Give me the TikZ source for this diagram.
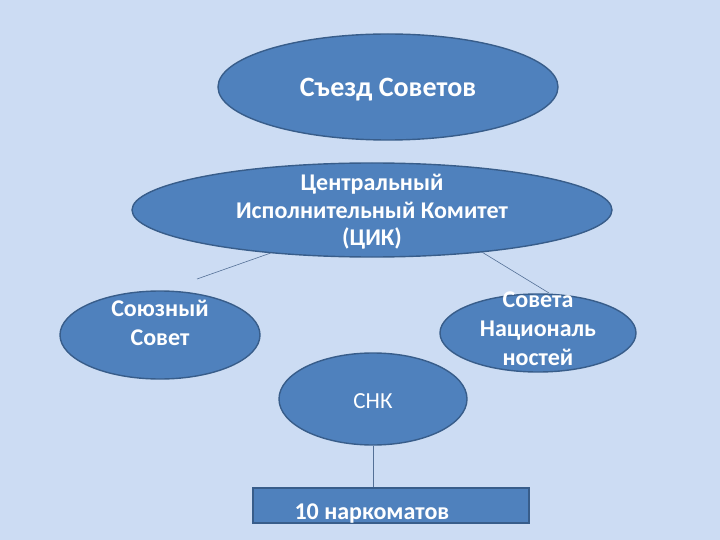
\documentclass[tikz,border=0pt]{standalone}
\usepackage{fontspec}
\setmainfont{Carlito}
\usetikzlibrary{shapes.geometric,positioning}
\definecolor{slidebg}{RGB}{204,220,243}
\definecolor{ovalfill}{RGB}{79,129,189}
\definecolor{ovaldraw}{RGB}{56,93,138}
\definecolor{linkcol}{RGB}{84,112,150}

\begin{document}
\begin{tikzpicture}[x=1pt,y=-1pt,font=\bfseries\fontsize{24}{29}\selectfont,
  oval/.style={ellipse,draw=ovaldraw,line width=1.4pt,fill=ovalfill,inner sep=0pt},
  words/.style={text=white,align=center,inner sep=0pt},
  link/.style={draw=linkcol,line width=0.6pt}]
\fill[slidebg] (0,0) rectangle (720,540);
\useasboundingbox (0,0) rectangle (720,540);

% ovals
\node[oval,minimum width=340pt,minimum height=106pt] (sezd) at (388,87) {};
\node[oval,minimum width=480pt,minimum height=94pt] (cik) at (372,210) {};
\node[oval,minimum width=200pt,minimum height=88pt] (soyuz) at (160,335) {};
\node[oval,minimum width=196pt,minimum height=78pt] (nats) at (538,333) {};
\node[oval,minimum width=188pt,minimum height=92pt] (snk) at (373,399) {};
\node[draw=ovaldraw,line width=1.4pt,fill=ovalfill,minimum width=276pt,minimum height=35pt,inner sep=0pt] (nark) at (391,505.5) {};

% texts
\node[words,font=\bfseries\fontsize{28}{34}\selectfont] (sezdtxt) at (388,90) {Съезд Советов};
\node[words,font=\bfseries\fontsize{24}{27.5}\selectfont] (ciktxt) at (372,212) {Центральный\\Исполнительный Комитет\\(ЦИК)};
\node[words] (soyuztxt) at (160,323) {Союзный\\Совет};
\node[words] (natstxt) at (538,329) {Совета\\Националь\\ностей};
\node[words,font=\fontsize{23}{27}\selectfont] (snktxt) at (373,401) {СНК};
\node[words,right=42pt of nark.west,yshift=-8pt] (narktxt) {10 наркоматов};

% links
\coordinate (soyuzend) at (197,279);
\coordinate (natsend) at (549,293);
\draw[link] (cik.203) -- (soyuzend);
\draw[link] (cik.339) -- (natsend);
\draw[link] (snk.south) -- (nark.north -| snk.south);
\end{tikzpicture}
\end{document}
